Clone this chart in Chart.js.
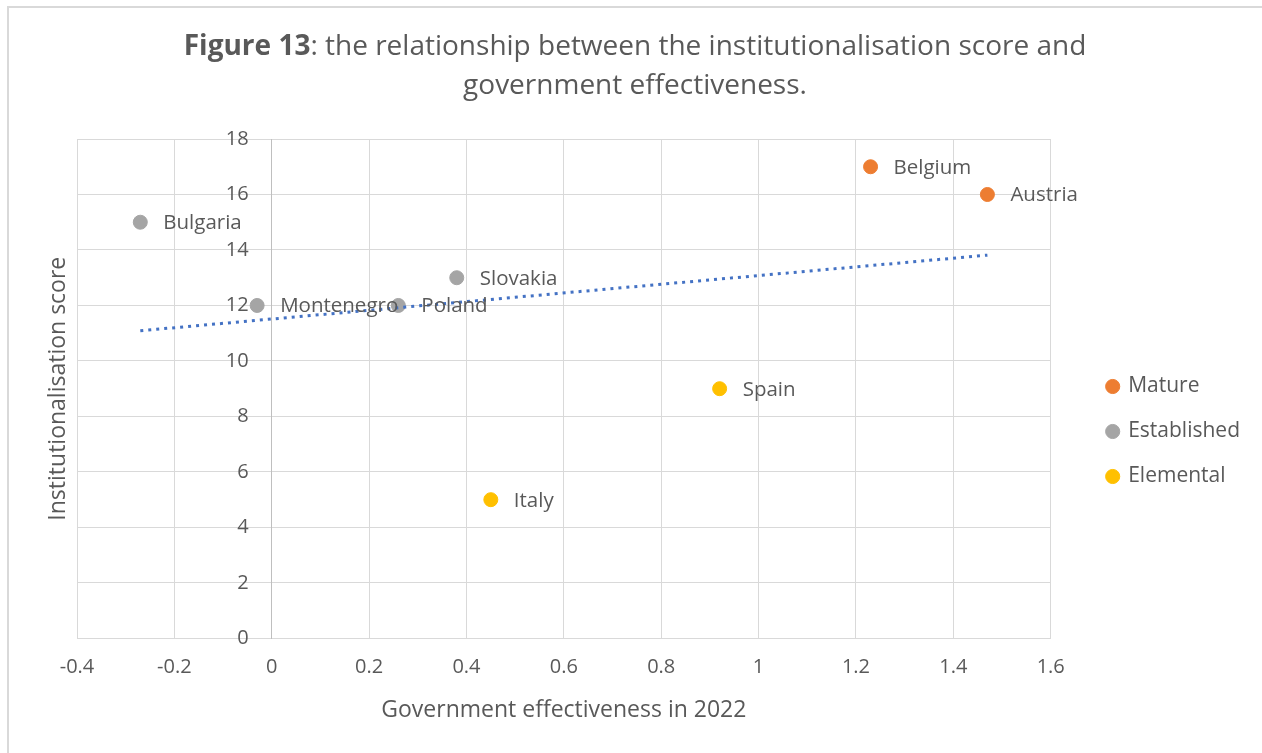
<!DOCTYPE html>
<html>
<head>
<meta charset="utf-8">
<script src="https://cdn.jsdelivr.net/npm/chart.js@4"></script>
<style>
  html, body { margin: 0; padding: 0; background: #fff; }
  #frame { position: absolute; left: 7px; top: 6px; width: 1300px; height: 800px; border: 2px solid #d9d9d9; box-sizing: border-box; }
  #wrap { position: absolute; left: 0; top: 0; width: 1262px; height: 753px; }
</style>
</head>
<body>
<div id="frame"></div>
<div id="wrap"><canvas id="scoreChart"></canvas></div>
<script>
// Данные по странам: эффективность правительства (x) и балл институционализации (y)
const matureNames = ['Belgium', 'Austria'];
const matureX = [1.23, 1.47];
const matureY = [17, 16];

const establishedNames = ['Bulgaria', 'Montenegro', 'Poland', 'Slovakia'];
const establishedX = [-0.27, -0.03, 0.26, 0.38];
const establishedY = [15, 12, 12, 13];

const elementalNames = ['Spain', 'Italy'];
const elementalX = [0.92, 0.45];
const elementalY = [9, 5];

const xTicks = [-0.4, -0.2, 0, 0.2, 0.4, 0.6, 0.8, 1, 1.2, 1.4, 1.6];
const yTicks = [0, 2, 4, 6, 8, 10, 12, 14, 16, 18];

const textColor = '#595959';
const fontFamily = '"Open Sans", sans-serif';

function toPoints(xs, ys, names) {
    return xs.map((x, i) => ({ x: x, y: ys[i], name: names[i] }));
}

// Линейный тренд по всем точкам (метод наименьших квадратов)
function linearTrend(xs, ys) {
    const n = xs.length;
    const mx = xs.reduce((a, b) => a + b, 0) / n;
    const my = ys.reduce((a, b) => a + b, 0) / n;
    let sxy = 0, sxx = 0;
    for (let i = 0; i < n; i++) {
        sxy += (xs[i] - mx) * (ys[i] - my);
        sxx += (xs[i] - mx) * (xs[i] - mx);
    }
    const k = sxy / sxx;
    const b = my - k * mx;
    const x0 = Math.min(...xs), x1 = Math.max(...xs);
    return [{ x: x0, y: k * x0 + b }, { x: x1, y: k * x1 + b }];
}

const allX = [...matureX, ...establishedX, ...elementalX];
const allY = [...matureY, ...establishedY, ...elementalY];

function pointSet(label, color, data) {
    return {
        type: 'scatter',
        label: label,
        data: data,
        backgroundColor: color,
        borderColor: color,
        pointRadius: 7,
        pointHoverRadius: 7,
        order: 2
    };
}

// Заголовок с жирной частью "Figure 13"
const titlePlugin = {
    id: 'mixedTitle',
    afterDraw(chart) {
        const ctx = chart.ctx;
        const cx = chart.width / 2 + 4;
        ctx.save();
        ctx.fillStyle = textColor;
        ctx.textBaseline = 'middle';
        ctx.textAlign = 'left';
        const bold = 'bold 28px ' + fontFamily;
        const normal = '28px ' + fontFamily;
        const p1 = 'Figure 13';
        const p2 = ': the relationship between the institutionalisation score and';
        ctx.font = bold;
        const w1 = ctx.measureText(p1).width;
        ctx.font = normal;
        const w2 = ctx.measureText(p2).width;
        const x = cx - (w1 + w2) / 2;
        ctx.font = bold;
        ctx.fillText(p1, x, 47);
        ctx.font = normal;
        ctx.fillText(p2, x + w1, 47);
        ctx.textAlign = 'center';
        ctx.fillText('government effectiveness.', cx, 86);
        ctx.restore();
    }
};

// Подписи оси Y у вертикальной оси (x = 0) и заголовок оси слева
const yAxisLabels = {
    id: 'yAxisLabels',
    afterDraw(chart) {
        const ctx = chart.ctx;
        const xs = chart.scales.x;
        const ys = chart.scales.y;
        const area = chart.chartArea;
        const x0 = xs.getPixelForValue(0);
        ctx.save();
        ctx.font = '20px ' + fontFamily;
        ctx.fillStyle = textColor;
        ctx.textAlign = 'right';
        ctx.textBaseline = 'middle';
        yTicks.forEach(v => {
            ctx.fillText(String(v), x0 - 23, ys.getPixelForValue(v));
        });
        ctx.translate(58, (area.top + area.bottom) / 2);
        ctx.rotate(-Math.PI / 2);
        ctx.textAlign = 'center';
        ctx.font = '23px ' + fontFamily;
        ctx.fillText('Institutionalisation score', 0, 0);
        ctx.restore();
    }
};

// Подписи стран справа от точек
const pointLabels = {
    id: 'pointLabels',
    afterDatasetsDraw(chart) {
        const ctx = chart.ctx;
        ctx.save();
        ctx.font = '20.5px ' + fontFamily;
        ctx.fillStyle = textColor;
        ctx.textAlign = 'left';
        ctx.textBaseline = 'middle';
        chart.data.datasets.forEach((ds, di) => {
            if (ds.type !== 'scatter') return;
            const meta = chart.getDatasetMeta(di);
            meta.data.forEach((el, i) => {
                ctx.fillText(ds.data[i].name, el.x + 23, el.y + 1);
            });
        });
        ctx.restore();
    }
};

const ctx = document.getElementById('scoreChart').getContext('2d');
new Chart(ctx, {
    data: {
        datasets: [
            pointSet('Mature', '#ED7D31', toPoints(matureX, matureY, matureNames)),
            pointSet('Established', '#A5A5A5', toPoints(establishedX, establishedY, establishedNames)),
            pointSet('Elemental', '#FFC000', toPoints(elementalX, elementalY, elementalNames)),
            {
                type: 'line',
                label: 'Linear trend',
                data: linearTrend(allX, allY),
                borderColor: '#4472C4',
                borderWidth: 3,
                borderDash: [3, 5],
                pointRadius: 0,
                fill: false,
                order: 1
            }
        ]
    },
    options: {
        responsive: true,
        maintainAspectRatio: false,
        animation: false,
        events: [],
        layout: { padding: { top: 139, left: 77, right: 12, bottom: 29 } },
        scales: {
            x: {
                type: 'linear',
                position: 'bottom',
                min: xTicks[0],
                max: xTicks[xTicks.length - 1],
                afterBuildTicks: (scale) => { scale.ticks = xTicks.map(v => ({ value: v })); },
                grid: { color: '#d9d9d9', lineWidth: 1, drawTicks: false },
                border: { color: '#d9d9d9', width: 1 },
                ticks: {
                    color: textColor,
                    font: { family: fontFamily, size: 20 },
                    padding: 17,
                    callback: v => String(Math.round(v * 10) / 10)
                },
                title: {
                    display: true,
                    text: 'Government effectiveness in 2022',
                    color: textColor,
                    font: { family: fontFamily, size: 23 },
                    padding: { top: 0, bottom: 0 }
                }
            },
            y: {
                type: 'linear',
                position: { x: 0 },
                min: yTicks[0],
                max: yTicks[yTicks.length - 1],
                afterBuildTicks: (scale) => { scale.ticks = yTicks.map(v => ({ value: v })); },
                grid: { color: '#d9d9d9', lineWidth: 1, drawTicks: false },
                border: { color: '#bfbfbf', width: 1 },
                ticks: { display: false }
            },
            // пустая ось справа — отступ между областью графика и легендой
            ySpacer: {
                type: 'linear',
                axis: 'y',
                position: 'right',
                display: true,
                grid: { display: false, drawTicks: false },
                border: { display: false },
                ticks: { display: false },
                afterFit: (scale) => { scale.width = 33; }
            }
        },
        plugins: {
            title: { display: false },
            tooltip: { enabled: false },
            legend: {
                position: 'right',
                align: 'center',
                labels: {
                    usePointStyle: true,
                    pointStyle: 'circle',
                    boxWidth: 10,
                    boxHeight: 10,
                    padding: 24,
                    color: textColor,
                    font: { family: fontFamily, size: 21 },
                    filter: item => item.text !== 'Linear trend'
                }
            }
        }
    },
    plugins: [titlePlugin, yAxisLabels, pointLabels]
});
</script>
</body>
</html>
